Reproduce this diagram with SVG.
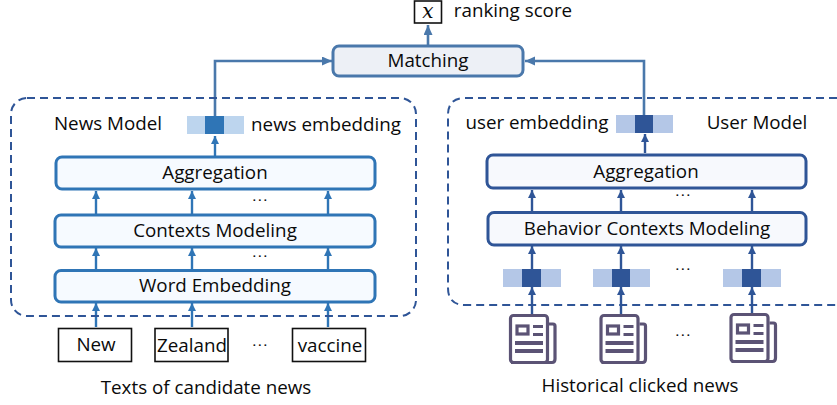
<svg xmlns="http://www.w3.org/2000/svg" width="837" height="405" viewBox="0 0 837 405">
<style>
text{font-family:"Open Sans","Noto Sans","Liberation Sans",sans-serif;font-size:18.8px;fill:#0a0a0a;text-anchor:middle}
text.dt{font-size:11px;font-weight:700;letter-spacing:2.4px}
.l{fill:#f6faff;stroke:#2f75b6;stroke-width:3}
.r{fill:#f7f9fd;stroke:#2f5597;stroke-width:3}
.w{fill:#fff;stroke:#111;stroke-width:1.6}
.d{fill:none;stroke:#2f5597;stroke-width:2;stroke-dasharray:8 5}
.cl{fill:none;stroke:#2f75b6;stroke-width:2.4}
.cr{fill:none;stroke:#2f5597;stroke-width:2.4}
.cm{fill:none;stroke:#4a78ab;stroke-width:2.6}
.ll{fill:#bdd5ee}.ld{fill:#2f75b6}.rl{fill:#b4c7e7}.rd{fill:#2f5597}
.ni{fill:none;stroke:#5b5375;stroke-width:3.2}
.nb{fill:#5b5375}
</style>
<defs>
<marker id="al" markerUnits="userSpaceOnUse" markerWidth="10" markerHeight="10" refX="8" refY="4" orient="auto"><path d="M0 0L8 4L0 8z" fill="#2f75b6"/></marker>
<marker id="ar" markerUnits="userSpaceOnUse" markerWidth="10" markerHeight="10" refX="8" refY="4" orient="auto"><path d="M0 0L8 4L0 8z" fill="#2f5597"/></marker>
<marker id="am" markerUnits="userSpaceOnUse" markerWidth="12" markerHeight="10" refX="10" refY="4.500" orient="auto"><path d="M0 0L10 4.500L0 9z" fill="#4a78ab"/></marker>
<g id="news"><rect class="ni" x="510.500" y="315.500" width="37" height="47" rx="3"/><path class="ni" d="M549 324h4q2 0 2 2v33q0 3.500-3 3.500h-41"/><rect class="ni" x="517" y="326" width="11" height="8" stroke-width="2.600"/><rect class="nb" x="533" y="325" width="10" height="3"/><rect class="nb" x="533" y="333" width="10" height="3"/><rect class="nb" x="515" y="341" width="28" height="4"/><rect class="nb" x="515" y="349" width="28" height="4"/></g>
</defs>

<g id="connectors">
<path class="cm" marker-end="url(#am)" d="M215 116V61H332"/>
<path class="cm" marker-end="url(#am)" d="M644 115V61H525"/>
<path class="cm" marker-end="url(#am)" d="M428 45V25"/>
<path class="cl" marker-end="url(#al)" d="M215 156V136"/>
<path class="cr" marker-end="url(#ar)" d="M645 153V134"/>
<path class="cl" marker-end="url(#al)" d="M96 214V191"/><path class="cl" marker-end="url(#al)" d="M192 214V191"/><path class="cl" marker-end="url(#al)" d="M328 214V191"/>
<path class="cl" marker-end="url(#al)" d="M96 269V248"/><path class="cl" marker-end="url(#al)" d="M192 269V248"/><path class="cl" marker-end="url(#al)" d="M328 269V248"/>
<path class="cl" marker-end="url(#al)" d="M96 327V303"/><path class="cl" marker-end="url(#al)" d="M192 327V303"/><path class="cl" marker-end="url(#al)" d="M328 327V303"/>
<path class="cr" marker-end="url(#ar)" d="M532 211V190"/><path class="cr" marker-end="url(#ar)" d="M621 211V190"/><path class="cr" marker-end="url(#ar)" d="M752 211V190"/>
<path class="cr" marker-end="url(#ar)" d="M532 269V246"/><path class="cr" marker-end="url(#ar)" d="M621 269V246"/><path class="cr" marker-end="url(#ar)" d="M752 269V246"/>
<path class="cr" marker-end="url(#ar)" d="M532 314V287"/><path class="cr" marker-end="url(#ar)" d="M621 314V287"/><path class="cr" marker-end="url(#ar)" d="M752 313V287"/>
</g>

<g id="news-model"><rect class="d" x="11" y="98" width="405" height="218" rx="16"/><text x="108" y="130">News Model</text></g>
<g id="user-model"><path class="d" d="M837 98H465Q448 98 448 115V288Q448 305 465 305H837"/><text x="757" y="129">User Model</text></g>

<g id="score"><rect class="w" x="414.500" y="1" width="27" height="22"/><text x="428" y="18" style="font-family:'DejaVu Serif',serif;font-style:italic;font-size:20px">x</text><text x="513" y="17">ranking score</text></g>
<g id="matching"><rect x="333" y="46" width="190" height="30" rx="6" fill="#edf0f6" stroke="#4a78ab" stroke-width="3"/><text x="428" y="67">Matching</text></g>

<g id="news-embedding"><rect class="ll" x="187" y="116" width="57" height="18"/><rect class="ld" x="205" y="116" width="19" height="18"/><text x="326" y="131">news embedding</text></g>
<g id="user-embedding"><rect class="rl" x="616" y="115" width="57" height="18"/><rect class="rd" x="635" y="115" width="18" height="18"/><text x="537" y="129">user embedding</text></g>

<g id="aggregation-l"><rect class="l" x="56" y="157" width="319" height="32" rx="6"/><text x="215" y="179">Aggregation</text></g>
<g id="contexts"><rect class="l" x="55" y="215" width="320" height="32" rx="6"/><text x="215" y="237">Contexts Modeling</text></g>
<g id="word-embedding"><rect class="l" x="55" y="270.500" width="320" height="31.500" rx="6"/><text x="215" y="292">Word Embedding</text></g>
<g id="aggregation-r"><rect class="r" x="487" y="155" width="319" height="33" rx="6"/><text x="646" y="178">Aggregation</text></g>
<g id="behavior"><rect class="r" x="488" y="212.500" width="318" height="32.500" rx="6"/><text x="647" y="235">Behavior Contexts Modeling</text></g>

<g id="w-new"><rect class="w" x="58.500" y="328.500" width="73" height="33"/><text x="96" y="351">New</text></g>
<g id="w-zealand"><rect class="w" x="155" y="328.500" width="73" height="33"/><text x="192" y="352">Zealand</text></g>
<g id="w-vaccine"><rect class="w" x="292.500" y="328.500" width="73" height="33"/><text x="330" y="352">vaccine</text></g>

<g id="clicked-1"><rect class="rl" x="503" y="269" width="58" height="18"/><rect class="rd" x="522" y="269" width="19" height="18"/><use href="#news"/></g>
<g id="clicked-2"><rect class="rl" x="593" y="269" width="57" height="18"/><rect class="rd" x="612" y="269" width="18" height="18"/><use href="#news" x="90.500"/></g>
<g id="clicked-3"><rect class="rl" x="723" y="269" width="58" height="18"/><rect class="rd" x="742" y="269" width="19" height="18"/><use href="#news" x="220.500" y="-1"/></g>

<g id="dots">
<text class="dt" x="261" y="201">...</text><text class="dt" x="261" y="257">...</text><text class="dt" x="261" y="346">...</text>
<text class="dt" x="684" y="196">...</text><text class="dt" x="684" y="270">...</text><text class="dt" x="684" y="336">...</text>
</g>
<text x="206" y="394">Texts of candidate news</text>
<text x="640" y="392">Historical clicked news</text>
</svg>
